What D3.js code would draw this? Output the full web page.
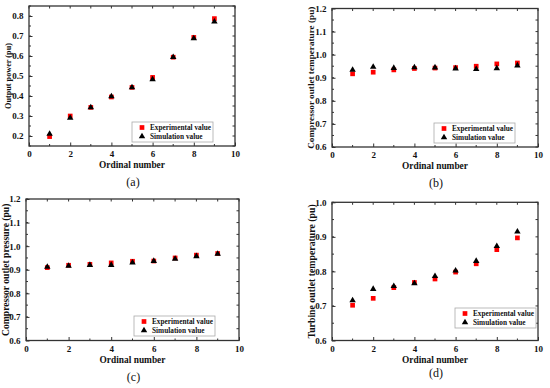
<!DOCTYPE html>
<html>
<head>
<meta charset="utf-8">
<script src="https://cdn.jsdelivr.net/npm/d3@7"></script>
<style>
  html, body { margin: 0; padding: 0; background: #fff; }
  svg text { font-family: "Liberation Serif", "Times New Roman", serif; }
</style>
</head>
<body>
<div id="chart"></div>
<script>
// Ordinal numbers shared by all four panels
const ordinals = [1, 2, 3, 4, 5, 6, 7, 8, 9];

// (a) output power
const powerExp = [0.197, 0.300, 0.343, 0.395, 0.443, 0.493, 0.594, 0.693, 0.787];
const powerSim = [0.210, 0.290, 0.343, 0.398, 0.443, 0.483, 0.594, 0.688, 0.772];

// (b) compressor outlet temperature
const compTempExp = [0.917, 0.924, 0.934, 0.940, 0.942, 0.944, 0.950, 0.960, 0.964];
const compTempSim = [0.934, 0.947, 0.942, 0.945, 0.944, 0.940, 0.937, 0.941, 0.953];

// (c) compressor outlet pressure
const compPresExp = [0.909, 0.919, 0.923, 0.929, 0.936, 0.937, 0.950, 0.962, 0.969];
const compPresSim = [0.912, 0.916, 0.920, 0.920, 0.930, 0.937, 0.946, 0.957, 0.967];

// (d) turbine outlet temperature
const turbTempExp = [0.702, 0.722, 0.753, 0.768, 0.778, 0.798, 0.822, 0.863, 0.897];
const turbTempSim = [0.716, 0.749, 0.757, 0.765, 0.786, 0.802, 0.830, 0.873, 0.915];

const xTicks = [0, 2, 4, 6, 8, 10];
const legendLabels = ['Experimental value', 'Simulation value'];
const xTitle = 'Ordinal number';

// Panel layout (frame box in px, y domain, legend corner, title placement)
const panels = [
  { tag: '(a)', title: 'Output power (pu)', exp: powerExp, sim: powerSim,
    box: [29, 6, 235, 146], yDomain: [0.15, 0.85], yTicks: [0.2, 0.3, 0.4, 0.5, 0.6, 0.7, 0.8],
    legend: [132, 122], titleX: 9, titleSize: 8.2, tagY: 186 },
  { tag: '(b)', title: 'Compressor outlet temperature (pu)', exp: compTempExp, sim: compTempSim,
    box: [332, 8.5, 538, 147], yDomain: [0.6, 1.2], yTicks: [0.6, 0.7, 0.8, 0.9, 1.0, 1.1, 1.2],
    legend: [434, 123], titleX: 312, titleSize: 9.2, tagY: 187 },
  { tag: '(c)', title: 'Compressor outlet pressure (pu)', exp: compPresExp, sim: compPresSim,
    box: [26, 199, 239, 340.5], yDomain: [0.6, 1.2], yTicks: [0.6, 0.7, 0.8, 0.9, 1.0, 1.1, 1.2],
    legend: [134, 316], titleX: 7, titleSize: 9.6, tagY: 381 },
  { tag: '(d)', title: 'Turbine outlet temperature (pu)', exp: turbTempExp, sim: turbTempSim,
    box: [332, 202.3, 538, 340.5], yDomain: [0.6, 1.0], yTicks: [0.6, 0.7, 0.8, 0.9, 1.0],
    legend: [455, 308], titleX: 313, titleSize: 9.8, tagY: 377 }
];

const svg = d3.select('#chart').append('svg')
  .attr('width', 550)
  .attr('height', 388);

const frameColor = '#333';
const textColor = '#111';

panels.forEach(p => {
  const [x0, y0, x1, y1] = p.box;
  const x = d3.scaleLinear().domain([0, 10]).range([x0, x1]);
  const y = d3.scaleLinear().domain(p.yDomain).range([y1, y0]);
  const g = svg.append('g');

  // minor ticks (inward) on all four sides
  const xMinor = d3.range(0, 10.001, 1);
  const step = p.yTicks[1] - p.yTicks[0];
  const yMinor = d3.range(p.yDomain[0], p.yDomain[1] + 1e-6, step / 2);

  // bottom axis
  const bottom = g.append('g')
    .attr('transform', `translate(0,${y1})`)
    .call(d3.axisBottom(x).tickValues(xTicks).tickSize(-3.5).tickPadding(5).tickFormat(d3.format('d')));
  bottom.select('.domain').remove();
  bottom.selectAll('line').attr('stroke', frameColor);
  bottom.selectAll('text')
    .attr('font-size', 9).attr('font-weight', 'bold').attr('fill', textColor);

  // left axis
  const left = g.append('g')
    .attr('transform', `translate(${x0},0)`)
    .call(d3.axisLeft(y).tickValues(p.yTicks).tickSize(-3.5).tickPadding(5.5).tickFormat(d3.format('.1f')));
  left.select('.domain').remove();
  left.selectAll('line').attr('stroke', frameColor);
  left.selectAll('text')
    .attr('font-size', 9).attr('font-weight', 'bold').attr('fill', textColor);

  // mirrored / minor ticks
  g.append('g').selectAll('line')
    .data(xMinor).join('line')
    .attr('x1', d => x(d)).attr('x2', d => x(d))
    .attr('y1', y0).attr('y2', y0 + 2.5)
    .attr('stroke', frameColor);
  g.append('g').selectAll('line')
    .data(xMinor.filter(d => d % 2 === 1)).join('line')
    .attr('x1', d => x(d)).attr('x2', d => x(d))
    .attr('y1', y1).attr('y2', y1 - 2)
    .attr('stroke', frameColor);
  g.append('g').selectAll('line')
    .data(yMinor).join('line')
    .attr('x1', x0).attr('x2', x0 + 2)
    .attr('y1', d => y(d)).attr('y2', d => y(d))
    .attr('stroke', frameColor);
  g.append('g').selectAll('line')
    .data(yMinor).join('line')
    .attr('x1', x1).attr('x2', x1 - 2.5)
    .attr('y1', d => y(d)).attr('y2', d => y(d))
    .attr('stroke', frameColor);

  // frame
  g.append('rect')
    .attr('x', x0).attr('y', y0)
    .attr('width', x1 - x0).attr('height', y1 - y0)
    .attr('fill', 'none')
    .attr('stroke', frameColor)
    .attr('stroke-width', 1.3);

  // axis titles
  g.append('text')
    .attr('x', (x0 + x1) / 2).attr('y', y1 + 22)
    .attr('text-anchor', 'middle')
    .attr('font-size', 9.4).attr('font-weight', 'bold').attr('fill', textColor)
    .text(xTitle);
  g.append('text')
    .attr('transform', `translate(${p.titleX},${(y0 + y1) / 2}) rotate(-90)`)
    .attr('text-anchor', 'middle')
    .attr('dominant-baseline', 'middle')
    .attr('font-size', p.titleSize).attr('font-weight', 'bold').attr('fill', textColor)
    .text(p.title);

  // panel tag
  g.append('text')
    .attr('x', (x0 + x1) / 2 + 1).attr('y', p.tagY)
    .attr('text-anchor', 'middle')
    .attr('font-size', 12).attr('fill', textColor)
    .text(p.tag);

  // series: experimental (red squares) and simulation (black triangles)
  const sq = d3.symbol().type(d3.symbolSquare).size(22);
  const tri = d3.symbol().type(d3.symbolTriangle).size(18);

  g.append('g').selectAll('path')
    .data(ordinals.map((o, i) => [o, p.exp[i]]))
    .join('path')
    .attr('d', sq)
    .attr('transform', d => `translate(${x(d[0])},${y(d[1])})`)
    .attr('fill', '#ff0000');

  g.append('g').selectAll('path')
    .data(ordinals.map((o, i) => [o, p.sim[i]]))
    .join('path')
    .attr('d', tri)
    .attr('transform', d => `translate(${x(d[0])},${y(d[1])})`)
    .attr('fill', '#000');

  // legend
  const [lx, ly] = p.legend;
  const lg = g.append('g').attr('transform', `translate(${lx},${ly})`);
  lg.append('rect')
    .attr('width', 81).attr('height', 20)
    .attr('fill', '#fff')
    .attr('stroke', '#aaa')
    .attr('stroke-width', 0.8);
  lg.append('path').attr('d', sq).attr('transform', 'translate(10,5.5)').attr('fill', '#ff0000');
  lg.append('path').attr('d', tri).attr('transform', 'translate(10,14.5)').attr('fill', '#000');
  legendLabels.forEach((t, i) => {
    lg.append('text')
      .attr('x', 18).attr('y', 8.3 + i * 9)
      .attr('font-size', 7.3).attr('font-weight', 'bold').attr('fill', textColor)
      .text(t);
  });
});
</script>
</body>
</html>
